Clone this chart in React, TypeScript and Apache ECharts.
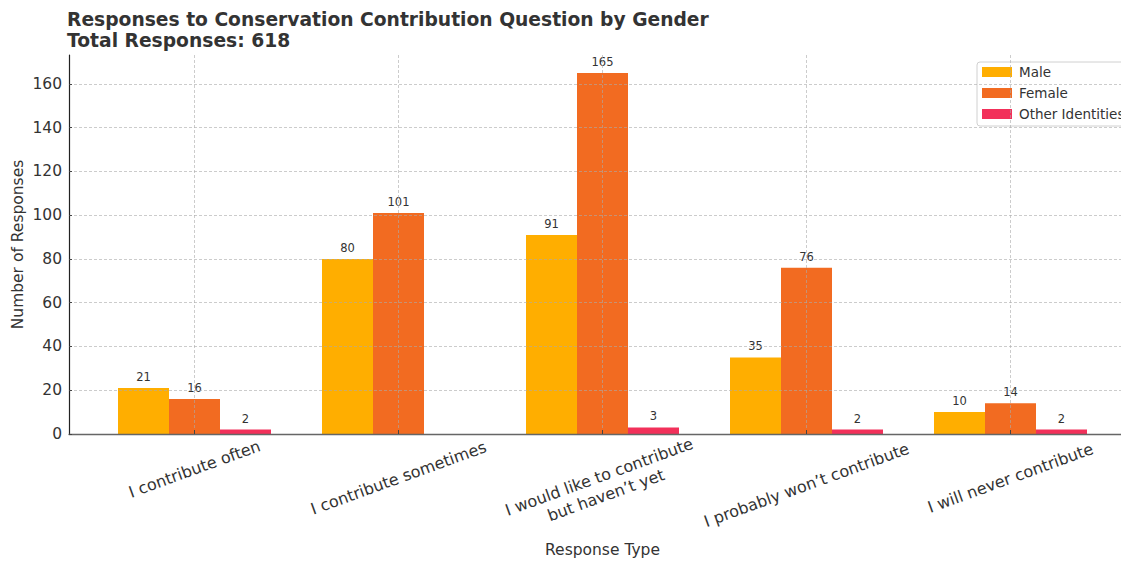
import React, { useEffect, useRef } from "react";
import * as echarts from "echarts";

const categories = [
  "I contribute often",
  "I contribute sometimes",
  "I would like to contribute\nbut haven’t yet",
  "I probably won’t contribute",
  "I will never contribute",
];
const male = [21, 80, 91, 35, 10];
const female = [16, 101, 165, 76, 14];
const other = [2, 0, 3, 2, 2];
const seriesNames = ["Male", "Female", "Other Identities"];
const colors = ["#FFAE00", "#F26B21", "#F2305A"];
const titleText = "Responses to Conservation Contribution Question by Gender\nTotal Responses: 618";
// extra downward shift (px) of each rotated tick label, to align the rotated boxes' tops
const labelShift = [1, 10, 18, 17, 10];

const FONT = "DejaVu Sans";
const TXT = "#333333";

export default function App() {
  const ref = useRef<HTMLDivElement>(null);
  useEffect(() => {
    if (!ref.current) return;
    const chart = echarts.init(ref.current, undefined, { renderer: "svg" });
    const s20 = Math.sin((20 * Math.PI) / 180);
    const c20 = Math.cos((20 * Math.PI) / 180);
    const LH = 19.5;
    const rich: Record<string, any> = {};
    labelShift.forEach((d, i) => {
      const pt = 2 * c20 * d;
      const pr = 2 * s20 * d;
      const base = { fontFamily: FONT, fontSize: 16, color: TXT, align: "center" };
      rich[`a${i}`] = { ...base, lineHeight: LH + pt, padding: [pt, pr, 0, 0] };
      rich[`b${i}`] = { ...base, lineHeight: LH, padding: [0, pr, 0, 0] };
    });
    const mk = (name: string, data: number[], color: string) => ({
      name,
      type: "bar",
      xAxisIndex: 1,
      yAxisIndex: 1,
      data,
      clip: false,
      z: 2,
      barGap: "0%",
      barCategoryGap: "25%",
      itemStyle: { color },
      label: {
        show: true,
        position: "top",
        distance: 5,
        fontFamily: FONT,
        fontSize: 11.5,
        color: TXT,
        formatter: (p: any) => (p.value === 0 ? "" : String(p.value)),
      },
    });
    chart.setOption({
      animation: false,
      backgroundColor: "#ffffff",
      textStyle: { fontFamily: FONT },
      title: {
        text: titleText,
        left: 62,
        top: 4,
        textStyle: {
          fontFamily: FONT,
          fontWeight: "bold",
          fontSize: 18.7,
          lineHeight: 21,
          color: TXT,
        },
      },
      legend: {
        data: seriesNames,
        orient: "vertical",
        left: 977,
        top: 62,
        itemWidth: 30,
        itemHeight: 10,
        itemGap: 7,
        padding: [3, 8, 5, 5],
        borderColor: "#d0d0d0",
        borderWidth: 1,
        borderRadius: 3,
        backgroundColor: "rgba(255,255,255,0.85)",
        icon: "rect",
        textStyle: { fontFamily: FONT, fontSize: 13.5, color: TXT, lineHeight: 14, padding: [0, 0, 0, 2] },
      },
      grid: [
        { left: 69, right: -20, top: 55, bottom: 128, outerBoundsMode: "none", containLabel: false },
        { left: 194.5, right: 110.5, top: 55, bottom: 128, outerBoundsMode: "none", containLabel: false },
      ],
      xAxis: [
        {
          gridIndex: 0,
          type: "value",
          min: 0,
          max: 1,
          z: 5,
          axisLine: { show: true, lineStyle: { color: "#666666", width: 1.4 } },
          axisTick: { show: false },
          axisLabel: { show: false },
          splitLine: { show: false },
        },
        {
          gridIndex: 1,
          type: "category",
          data: categories,
          boundaryGap: false,
          z: 5,
          axisLine: { show: false },
          axisTick: { show: true, inside: true, length: 4, lineStyle: { color: "#444444" } },
          axisLabel: {
            interval: 0,
            rotate: 20,
            align: "center",
            verticalAlign: "middle",
            margin: 34,
            hideOverlap: false,
            fontFamily: FONT,
            fontSize: 16,
            color: TXT,
            formatter: (v: string, i: number) =>
              v
                .split("\n")
                .map((line, k) => `{${k === 0 ? "a" : "b"}${i}|${line}}`)
                .join("\n"),
            rich,
          },
          splitLine: {
            show: true,
            lineStyle: { color: "rgba(170,170,170,0.6)", type: [3, 2], width: 1 },
          },
          name: "Response Type",
          nameLocation: "middle",
          nameGap: 108,
          nameMoveOverlap: false,
          nameTextStyle: { fontFamily: FONT, fontSize: 15.5, color: TXT },
        },
      ],
      yAxis: [
        {
          gridIndex: 0,
          type: "value",
          min: 0,
          max: 173.25,
          interval: 20,
          z: 5,
          axisLine: { show: true, lineStyle: { color: "#222222", width: 1.2 } },
          axisTick: { show: true, inside: true, length: 3, lineStyle: { color: "#444444" } },
          axisLabel: {
            fontFamily: FONT,
            fontSize: 15.5,
            color: TXT,
            margin: 7,
            showMaxLabel: false,
            formatter: (v: number) => (Math.abs(v % 20) < 1e-6 ? String(v) : ""),
          },
          splitLine: {
            show: true,
            showMaxLine: false,
            lineStyle: { color: "rgba(170,170,170,0.6)", type: [3, 2], width: 1 },
          },
          name: "Number of Responses",
          nameLocation: "middle",
          nameGap: 43,
          nameMoveOverlap: false,
          nameTextStyle: { fontFamily: FONT, fontSize: 15.5, color: TXT },
        },
        {
          gridIndex: 1,
          type: "value",
          min: 0,
          max: 173.25,
          show: false,
        },
      ],
      series: [
        mk(seriesNames[0], male, colors[0]),
        mk(seriesNames[1], female, colors[1]),
        mk(seriesNames[2], other, colors[2]),
      ],
    });
    return () => chart.dispose();
  }, []);
  return <div ref={ref} style={{ width: 1121, height: 562, position: "absolute", left: 0, top: 0 }} />;
}
